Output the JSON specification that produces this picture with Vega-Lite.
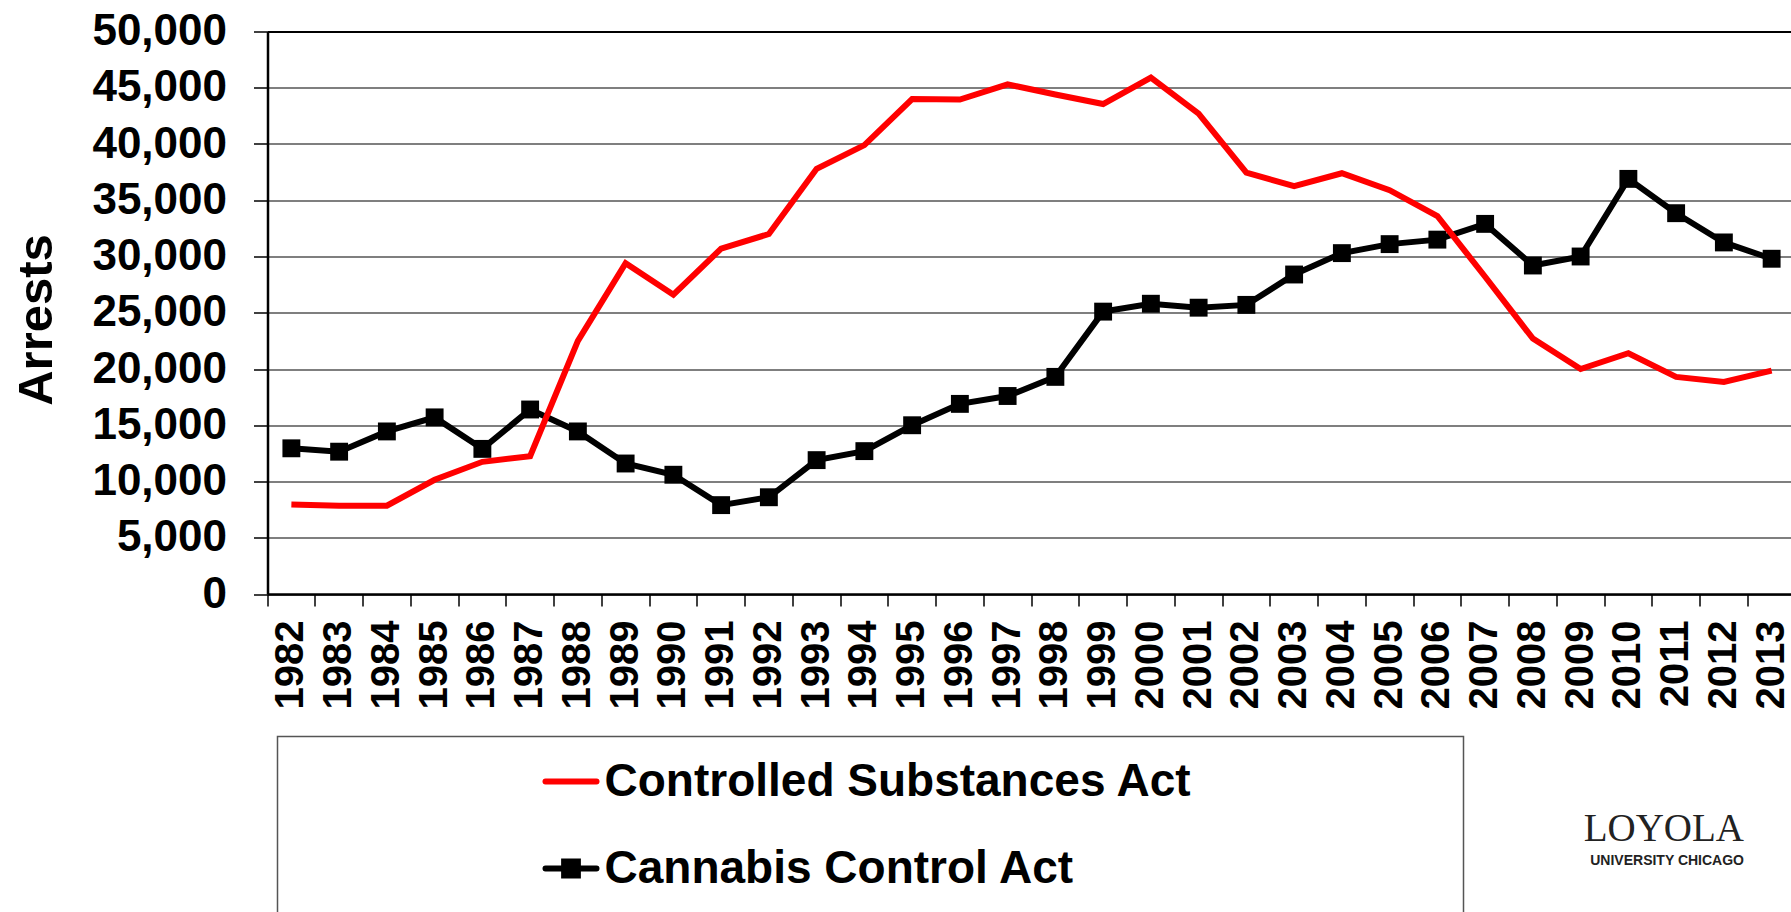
{
  "$schema": "https://vega.github.io/schema/vega-lite/v6.json",
  "width": 1523.5,
  "height": 562.5,
  "autosize": {"type": "none"},
  "padding": {"left": 267.5, "top": 31.5, "right": 0, "bottom": 318},
  "background": "white",
  "config": {
    "view": {"stroke": null},
    "font": "Liberation Sans",
    "axis": {"labelFont": "Liberation Sans", "titleFont": "Liberation Sans"},
    "legend": {"labelFont": "Liberation Sans", "titleFont": "Liberation Sans"}
  },
  "title": {
    "text": "LOYOLA",
    "subtitle": "UNIVERSITY CHICAGO",
    "orient": "bottom",
    "anchor": "end",
    "frame": "group",
    "font": "Liberation Serif",
    "fontSize": 39,
    "fontWeight": "normal",
    "color": "#222222",
    "subtitleFont": "Liberation Sans",
    "subtitleFontSize": 14,
    "subtitleFontWeight": "bold",
    "subtitleColor": "#222222",
    "subtitlePadding": 5,
    "offset": -109.5,
    "dx": -47
  },
  "data": {
    "values": [
      {"year": 1982, "series": "Controlled Substances Act", "arrests": 7950},
      {"year": 1983, "series": "Controlled Substances Act", "arrests": 7850},
      {"year": 1984, "series": "Controlled Substances Act", "arrests": 7850},
      {"year": 1985, "series": "Controlled Substances Act", "arrests": 10150},
      {"year": 1986, "series": "Controlled Substances Act", "arrests": 11750},
      {"year": 1987, "series": "Controlled Substances Act", "arrests": 12250},
      {"year": 1988, "series": "Controlled Substances Act", "arrests": 22500},
      {"year": 1989, "series": "Controlled Substances Act", "arrests": 29400},
      {"year": 1990, "series": "Controlled Substances Act", "arrests": 26600},
      {"year": 1991, "series": "Controlled Substances Act", "arrests": 30700},
      {"year": 1992, "series": "Controlled Substances Act", "arrests": 32000},
      {"year": 1993, "series": "Controlled Substances Act", "arrests": 37800},
      {"year": 1994, "series": "Controlled Substances Act", "arrests": 39900},
      {"year": 1995, "series": "Controlled Substances Act", "arrests": 44000},
      {"year": 1996, "series": "Controlled Substances Act", "arrests": 43950},
      {"year": 1997, "series": "Controlled Substances Act", "arrests": 45300},
      {"year": 1998, "series": "Controlled Substances Act", "arrests": 44400},
      {"year": 1999, "series": "Controlled Substances Act", "arrests": 43550},
      {"year": 2000, "series": "Controlled Substances Act", "arrests": 45900},
      {"year": 2001, "series": "Controlled Substances Act", "arrests": 42700},
      {"year": 2002, "series": "Controlled Substances Act", "arrests": 37450},
      {"year": 2003, "series": "Controlled Substances Act", "arrests": 36250},
      {"year": 2004, "series": "Controlled Substances Act", "arrests": 37400},
      {"year": 2005, "series": "Controlled Substances Act", "arrests": 35900},
      {"year": 2006, "series": "Controlled Substances Act", "arrests": 33600},
      {"year": 2007, "series": "Controlled Substances Act", "arrests": 28200},
      {"year": 2008, "series": "Controlled Substances Act", "arrests": 22700},
      {"year": 2009, "series": "Controlled Substances Act", "arrests": 20000},
      {"year": 2010, "series": "Controlled Substances Act", "arrests": 21400},
      {"year": 2011, "series": "Controlled Substances Act", "arrests": 19300},
      {"year": 2012, "series": "Controlled Substances Act", "arrests": 18850},
      {"year": 2013, "series": "Controlled Substances Act", "arrests": 19850},
      {"year": 1982, "series": "Cannabis Control Act", "arrests": 12950},
      {"year": 1983, "series": "Cannabis Control Act", "arrests": 12650},
      {"year": 1984, "series": "Cannabis Control Act", "arrests": 14450},
      {"year": 1985, "series": "Cannabis Control Act", "arrests": 15700},
      {"year": 1986, "series": "Cannabis Control Act", "arrests": 12900},
      {"year": 1987, "series": "Cannabis Control Act", "arrests": 16400},
      {"year": 1988, "series": "Cannabis Control Act", "arrests": 14450},
      {"year": 1989, "series": "Cannabis Control Act", "arrests": 11600},
      {"year": 1990, "series": "Cannabis Control Act", "arrests": 10600},
      {"year": 1991, "series": "Cannabis Control Act", "arrests": 7900},
      {"year": 1992, "series": "Cannabis Control Act", "arrests": 8600},
      {"year": 1993, "series": "Cannabis Control Act", "arrests": 11900},
      {"year": 1994, "series": "Cannabis Control Act", "arrests": 12700},
      {"year": 1995, "series": "Cannabis Control Act", "arrests": 15000},
      {"year": 1996, "series": "Cannabis Control Act", "arrests": 16900},
      {"year": 1997, "series": "Cannabis Control Act", "arrests": 17600},
      {"year": 1998, "series": "Cannabis Control Act", "arrests": 19300},
      {"year": 1999, "series": "Cannabis Control Act", "arrests": 25100},
      {"year": 2000, "series": "Cannabis Control Act", "arrests": 25800},
      {"year": 2001, "series": "Cannabis Control Act", "arrests": 25450},
      {"year": 2002, "series": "Cannabis Control Act", "arrests": 25700},
      {"year": 2003, "series": "Cannabis Control Act", "arrests": 28400},
      {"year": 2004, "series": "Cannabis Control Act", "arrests": 30300},
      {"year": 2005, "series": "Cannabis Control Act", "arrests": 31100},
      {"year": 2006, "series": "Cannabis Control Act", "arrests": 31500},
      {"year": 2007, "series": "Cannabis Control Act", "arrests": 32900},
      {"year": 2008, "series": "Cannabis Control Act", "arrests": 29200},
      {"year": 2009, "series": "Cannabis Control Act", "arrests": 30000},
      {"year": 2010, "series": "Cannabis Control Act", "arrests": 36900},
      {"year": 2011, "series": "Cannabis Control Act", "arrests": 33850},
      {"year": 2012, "series": "Cannabis Control Act", "arrests": 31250},
      {"year": 2013, "series": "Cannabis Control Act", "arrests": 29800}
    ]
  },
  "encoding": {
    "y": {
      "field": "arrests",
      "type": "quantitative",
      "scale": {"domain": [0, 50000], "nice": false, "zero": true},
      "axis": {
        "values": [0, 5000, 10000, 15000, 20000, 25000, 30000, 35000, 40000, 45000, 50000],
        "format": ",d",
        "title": "Arrests",
        "titleFontSize": 49,
        "titleFontWeight": "bold",
        "titleColor": "black",
        "titlePadding": 30,
        "titleY": 288,
        "labelFontSize": 44,
        "labelFontWeight": "bold",
        "labelColor": "black",
        "labelPadding": 27,
        "tickSize": 14,
        "tickColor": "black",
        "tickWidth": 1.5,
        "domainColor": "black",
        "domainWidth": 2.5,
        "grid": true,
        "gridColor": {"condition": {"test": "datum.value === 50000", "value": "black"}, "value": "#555555"},
        "gridWidth": {"condition": {"test": "datum.value === 50000", "value": 2.2}, "value": 1.5}
      }
    },
    "color": {
      "field": "series",
      "type": "nominal",
      "scale": {"domain": ["Controlled Substances Act", "Cannabis Control Act"], "range": ["#FF0000", "#000000"]},
      "legend": {
        "orient": "none",
        "legendX": 10,
        "legendY": 705,
        "title": "\u00a0",
        "titleOrient": "right",
        "titlePadding": 254.5,
        "titleFontSize": 160,
        "titleColor": "white",
        "direction": "vertical",
        "labelFontSize": 46,
        "labelFontWeight": "bold",
        "labelColor": "black",
        "labelLimit": 0,
        "symbolType": "stroke",
        "symbolSize": 2601,
        "symbolStrokeWidth": 6,
        "padding": 16.5,
        "rowPadding": 35,
        "strokeColor": "#555555",
        "symbolOffset": 248.5,
        "labelOffset": 5,
        "encode": {
          "legend": {"update": {"strokeWidth": {"value": 1.5}}},
          "symbols": {
            "update": {
              "shape": {"signal": "datum.value === 'Cannabis Control Act' ? 'M-1,0H1M-0.27,-0.27H0.27V0.27H-0.27Z' : 'M-1,0H1'"},
              "fill": {"signal": "datum.value === 'Cannabis Control Act' ? 'black' : 'transparent'"},
              "strokeCap": {"value": "round"}
            }
          }
        }
      }
    }
  },
  "layer": [
    {
      "transform": [{"filter": "datum.series === 'Cannabis Control Act'"}],
      "mark": {"type": "line", "strokeWidth": 6},
      "encoding": {
        "x": {
          "field": "year",
          "type": "ordinal",
          "scale": {"type": "band", "range": [0, 1528], "paddingInner": 0, "paddingOuter": 0},
          "axis": {
            "orient": "bottom",
            "bandPosition": 0,
            "labels": false,
            "ticks": true,
            "tickSize": 12,
            "tickWidth": 1.5,
            "tickColor": "black",
            "domain": false,
            "grid": false,
            "title": null
          }
        }
      }
    },
    {
      "transform": [{"filter": "datum.series === 'Cannabis Control Act'"}],
      "mark": {"type": "point", "shape": "square", "filled": true, "size": 320, "opacity": 1},
      "encoding": {
        "x": {"field": "year", "type": "ordinal", "axis": null},
        "color": {"value": "black"}
      }
    },
    {
      "transform": [{"filter": "datum.series === 'Controlled Substances Act'"}],
      "mark": {"type": "line", "strokeWidth": 6},
      "encoding": {
        "x": {
          "field": "year",
          "type": "ordinal",
          "axis": {
            "orient": "bottom",
            "labelAngle": 270,
            "labelFontSize": 40,
            "labelFontWeight": "bold",
            "labelColor": "black",
            "labelPadding": 26,
            "ticks": false,
            "domain": true,
            "domainColor": "black",
            "domainWidth": 2.5,
            "grid": false,
            "title": null
          }
        }
      }
    }
  ],
  "resolve": {"axis": {"x": "independent"}}
}
